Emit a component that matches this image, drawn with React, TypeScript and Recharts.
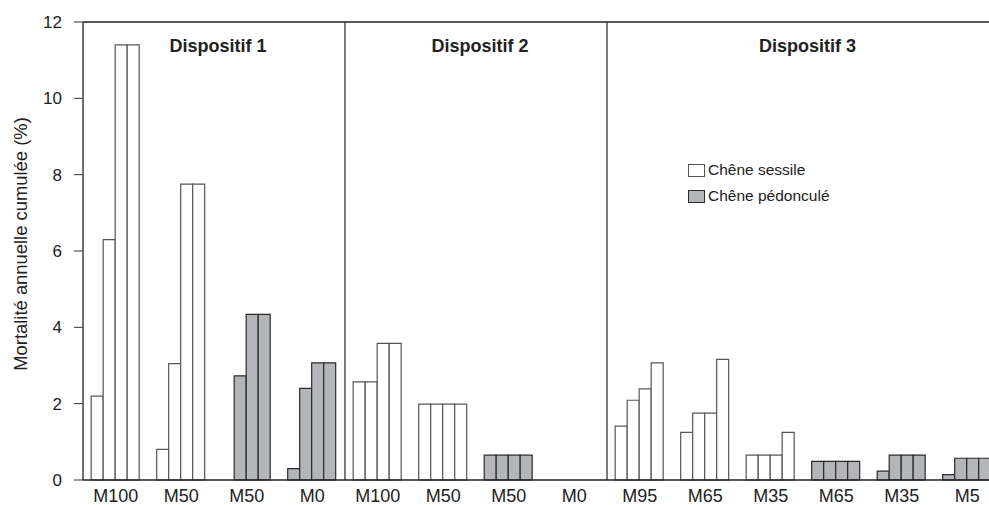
import { BarChart, Bar, Cell, XAxis, YAxis, ReferenceLine, Legend } from 'recharts';

// ─── Data ─────────────────────────────────────────────────────────────────────

const groupKeys = [
  'd1-M100', 'd1-M50s', 'd1-M50p', 'd1-M0',
  'd2-M100', 'd2-M50s', 'd2-M50p', 'd2-M0',
  'd3-M95', 'd3-M65s', 'd3-M35s', 'd3-M65p', 'd3-M35p', 'd3-M5',
];
const groupLabels = [
  'M100', 'M50', 'M50', 'M0',
  'M100', 'M50', 'M50', 'M0',
  'M95', 'M65', 'M35', 'M65', 'M35', 'M5',
];
const groupSpecies = [
  'sessile', 'sessile', 'pedoncule', 'pedoncule',
  'sessile', 'sessile', 'pedoncule', 'pedoncule',
  'sessile', 'sessile', 'sessile', 'pedoncule', 'pedoncule', 'pedoncule',
];

// four successive measurements per group (cumulated annual mortality, %)
const year1 = [2.2, 0.8, 0, 0.3, 2.57, 1.99, 0.65, 0, 1.41, 1.25, 0.65, 0.49, 0.23, 0.14];
const year2 = [6.3, 3.05, 2.73, 2.4, 2.57, 1.99, 0.65, 0, 2.09, 1.75, 0.65, 0.49, 0.65, 0.57];
const year3 = [11.4, 7.75, 4.34, 3.07, 3.58, 1.99, 0.65, 0, 2.39, 1.75, 0.65, 0.49, 0.65, 0.57];
const year4 = [11.4, 7.75, 4.34, 3.07, 3.58, 1.99, 0.65, 0, 3.07, 3.16, 1.25, 0.49, 0.65, 0.57];

const yTicks = [0, 2, 4, 6, 8, 10, 12];

const dispositifs = [
  { title: 'Dispositif 1', anchor: 'd1-M50s' },
  { title: 'Dispositif 2', anchor: 'd2-M50s' },
  { title: 'Dispositif 3', anchor: 'd3-M35s' },
];
const separators = ['d1-M0', 'd2-M0'];

const speciesLegend = [
  { key: 'sessile', label: 'Chêne sessile' },
  { key: 'pedoncule', label: 'Chêne pédonculé' },
];

const yearKeys = ['y1', 'y2', 'y3', 'y4'];

const data = groupKeys.map((key, i) => ({
  key,
  label: groupLabels[i],
  species: groupSpecies[i],
  y1: year1[i],
  y2: year2[i],
  y3: year3[i],
  y4: year4[i],
}));

// ─── Styles ───────────────────────────────────────────────────────────────────

const FONT = '"Liberation Sans", Arial, Helvetica, sans-serif';
const INK = '#222';
const fills: Record<string, string> = { sessile: '#ffffff', pedoncule: '#b4b5b9' };
const strokes: Record<string, string> = { sessile: '#555', pedoncule: '#2a2a2a' };

// ─── Pieces ───────────────────────────────────────────────────────────────────

// eslint-disable-next-line @typescript-eslint/no-explicit-any
function GroupTick(props: any) {
  const { x, y, payload } = props;
  const row = data.find((d) => d.key === payload.value);
  return (
    <text x={x} y={y + 22} textAnchor="middle" fontSize={18} fill={INK} fontFamily={FONT}>
      {row ? row.label : ''}
    </text>
  );
}

function SpeciesLegend() {
  return (
    <div style={{ fontFamily: FONT, fontSize: 15.5, color: INK, lineHeight: '26px' }}>
      {speciesLegend.map((s) => (
        <div key={s.key} style={{ display: 'flex', alignItems: 'center' }}>
          <span
            style={{
              display: 'inline-block', width: 15, height: 11, marginRight: 3,
              background: fills[s.key], border: `1px solid ${strokes[s.key]}`,
            }}
          />
          {s.label}
        </div>
      ))}
    </div>
  );
}

// ─── Component ────────────────────────────────────────────────────────────────

export default function App() {
  return (
    <div style={{ position: 'absolute', left: 0, top: 0, width: 989, height: 505, overflow: 'hidden', background: '#fff' }}>
      <BarChart
        width={1000}
        height={505}
        data={data}
        margin={{ top: 22, right: 0, bottom: 0, left: 0 }}
        barGap={0}
        barCategoryGap="12.5%"
      >
        <XAxis
          dataKey="key"
          interval={0}
          tickLine={false}
          tickSize={0}
          tickMargin={0}
          height={25}
          axisLine={{ stroke: INK, strokeWidth: 1.3 }}
          tick={<GroupTick />}
        />
        <YAxis
          type="number"
          domain={[0, 12]}
          ticks={yTicks}
          width={83}
          tickSize={9}
          tickMargin={12}
          axisLine={{ stroke: INK, strokeWidth: 1.3 }}
          tickLine={{ stroke: '#333' }}
          tick={{ fontSize: 17, fill: INK, fontFamily: FONT }}
          label={{
            // eslint-disable-next-line @typescript-eslint/no-explicit-any
            content: ({ viewBox }: any) => {
              const cy = viewBox.y + viewBox.height / 2 - 7;
              return (
                <text
                  x={20} y={cy} transform={`rotate(-90 20 ${cy})`}
                  textAnchor="middle" dominantBaseline="central"
                  fontSize={18.4} fill={INK} fontFamily={FONT}
                >
                  Mortalité annuelle cumulée (%)
                </text>
              );
            },
          }}
        />

        {/* top frame */}
        <ReferenceLine y={12} stroke={INK} strokeWidth={1.5} />

        {/* vertical separators between the three plots */}
        {separators.map((k) => (
          <ReferenceLine key={k} x={k} position="end" stroke={INK} strokeWidth={1.2} />
        ))}

        {/* plot titles */}
        {dispositifs.map((d) => (
          <ReferenceLine
            key={d.title}
            x={d.anchor}
            position="end"
            stroke="none"
            label={{
              // eslint-disable-next-line @typescript-eslint/no-explicit-any
              content: ({ viewBox }: any) => (
                <text
                  x={viewBox.x + 4} y={viewBox.y + 24}
                  textAnchor="middle" dominantBaseline="central"
                  fontSize={18} fontWeight="bold" fill={INK} fontFamily={FONT}
                >
                  {d.title}
                </text>
              ),
            }}
          />
        ))}

        {yearKeys.map((k) => (
          <Bar key={k} dataKey={k} isAnimationActive={false} strokeWidth={1.2}>
            {data.map((row) => (
              <Cell key={`${k}-${row.key}`} fill={fills[row.species]} stroke={strokes[row.species]} />
            ))}
          </Bar>
        ))}

        <Legend
          layout="horizontal"
          verticalAlign="middle"
          align="center"
          content={<SpeciesLegend />}
          wrapperStyle={{ left: 688, top: 157, width: 'auto', height: 'auto' }}
        />
      </BarChart>
    </div>
  );
}
